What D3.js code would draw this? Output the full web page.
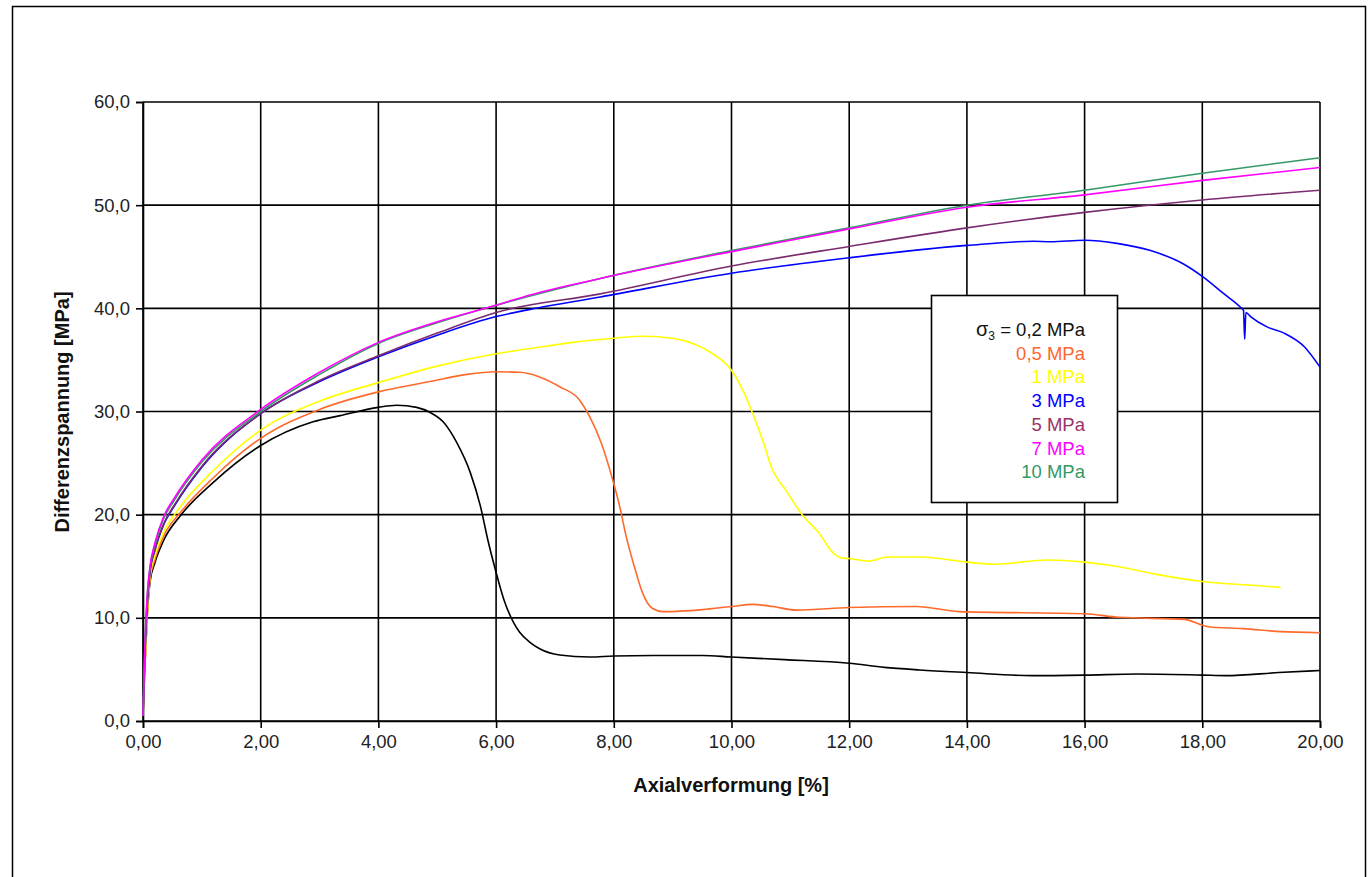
<!DOCTYPE html>
<html><head><meta charset="utf-8">
<script src="https://cdn.jsdelivr.net/npm/d3@7"></script>
<style>
html,body{margin:0;padding:0;background:#fff;}
svg{display:block;font-family:"Liberation Sans",Arial,sans-serif;}
</style></head>
<body>
<svg id="chart" width="1370" height="877"></svg>
<script>
// ---- data (Axialverformung [%], Differenzspannung [MPa]) ----
const xTicks = [0,2,4,6,8,10,12,14,16,18,20];
const yTicks = [0,10,20,30,40,50,60];
const seriesNames = ["σ3 = 0,2 MPa","0,5 MPa","1 MPa","3 MPa","5 MPa","7 MPa","10 MPa"];
const seriesColors = ["#000000","#ff6a2b","#ffff00","#0000ff","#7b2c6e","#ff00ff","#339966"];

const s02 = [[0,0.5],[0.03,5],[0.07,10],[0.12,13.5],[0.2,15.3],[0.35,17.5],[0.65,20.0],[1.19,23.1],[2.0,26.7],[2.89,29.0],[3.35,29.6],[4.0,30.4],[4.31,30.6],[4.65,30.4],[4.88,29.9],[5.1,29.0],[5.33,27.0],[5.56,24.1],[5.73,20.9],[5.87,17.3],[6.0,14.4],[6.13,11.8],[6.3,9.5],[6.4,8.6],[6.58,7.6],[6.74,7.0],[7.08,6.4],[7.59,6.2],[8.0,6.3],[8.66,6.35],[9.51,6.35],[10.0,6.2],[10.9,5.95],[12.0,5.6],[12.6,5.2],[13.2,4.95],[14.0,4.7],[15.1,4.4],[16.0,4.45],[16.9,4.55],[18.0,4.45],[18.4,4.4],[19.3,4.7],[20.0,4.9]];
const s05 = [[0,0.5],[0.03,5],[0.07,10],[0.12,13.8],[0.2,15.6],[0.35,17.9],[0.65,20.3],[1.2,23.6],[2.0,27.4],[3.0,30.2],[4.0,31.9],[4.88,32.9],[5.5,33.6],[6.0,33.85],[6.4,33.8],[7.08,32.4],[7.42,31.1],[7.59,29.5],[7.79,26.9],[7.98,23.4],[8.1,20.8],[8.21,17.9],[8.35,14.95],[8.49,12.4],[8.66,10.9],[8.83,10.6],[9.51,10.8],[10.0,11.1],[10.36,11.3],[10.7,11.1],[11.1,10.75],[12.0,11.0],[13.14,11.1],[13.87,10.6],[16.0,10.4],[16.59,10.05],[17.69,9.85],[18.1,9.14],[18.7,8.95],[19.33,8.66],[20.0,8.56]];
const s1 = [[0,0.5],[0.03,5],[0.07,10],[0.12,14],[0.2,16],[0.35,18.3],[0.6,20.5],[1.2,24.3],[2.0,28.2],[3.0,31.0],[4.0,32.8],[5.0,34.4],[6.0,35.6],[6.58,36.1],[7.3,36.7],[8.0,37.1],[8.5,37.3],[9.0,37.1],[9.34,36.6],[9.68,35.6],[10.0,34.0],[10.19,32.1],[10.36,29.8],[10.53,27.2],[10.7,24.3],[10.92,22.4],[11.2,20.0],[11.49,18.2],[11.71,16.4],[11.88,15.8],[12.0,15.75],[12.33,15.5],[12.65,15.9],[13.2,15.9],[14.0,15.4],[14.46,15.2],[15.37,15.6],[16.0,15.4],[16.59,14.95],[17.2,14.24],[18.03,13.5],[18.73,13.2],[19.33,12.95]];
const s3 = [[0,0.5],[0.03,6],[0.07,11],[0.12,14.5],[0.2,16.5],[0.35,19.0],[0.55,21.0],[1.0,24.6],[2.0,29.8],[3.0,32.9],[4.0,35.3],[5.0,37.4],[6.0,39.2],[6.58,39.9],[7.77,41.1],[10.0,43.4],[12.0,44.9],[14.0,46.1],[15.13,46.5],[15.42,46.45],[16.0,46.6],[16.55,46.3],[17.12,45.6],[17.68,44.3],[18.0,43.1],[18.37,41.4],[18.65,40.1],[18.70,39.8],[18.72,37.0],[18.74,39.6],[18.82,39.2],[19.1,38.2],[19.39,37.6],[19.73,36.3],[20.0,34.3]];
const s5 = [[0,0.5],[0.03,6],[0.07,11],[0.12,14.5],[0.2,16.6],[0.35,19.1],[0.55,21.1],[1.0,24.7],[2.0,29.8],[3.0,33.0],[4.0,35.4],[5.0,37.6],[6.0,39.6],[7.77,41.4],[10.0,44.1],[12.0,46.0],[14.0,47.8],[16.0,49.3],[18.0,50.5],[20.0,51.45]];
const s7 = [[0,0.5],[0.03,7],[0.07,12],[0.12,15],[0.2,17.2],[0.35,19.8],[0.52,21.5],[1.0,25.3],[2.0,30.2],[3.0,33.8],[4.0,36.7],[5.0,38.7],[6.0,40.3],[6.58,41.3],[7.77,42.9],[10.0,45.5],[12.0,47.7],[14.0,49.8],[16.0,51.0],[18.0,52.4],[20.0,53.65]];
const s10 = [[0,0.5],[0.03,7],[0.07,12],[0.12,14.9],[0.2,17.0],[0.35,19.6],[0.52,21.3],[1.0,25.1],[2.0,30.0],[3.0,33.6],[4.0,36.6],[5.0,38.6],[6.0,40.3],[7.77,42.9],[10.0,45.6],[12.0,47.8],[14.0,50.0],[16.0,51.45],[18.0,53.1],[20.0,54.6]];
const seriesData = [s02,s05,s1,s3,s5,s7,s10];

// ---- drawing ----
const svg = d3.select("#chart");
const x = d3.scaleLinear().domain([0,20]).range([143,1320]);
const y = d3.scaleLinear().domain([0,60]).range([721,102]);

// outer frame
svg.append("rect").attr("x",12.5).attr("y",6.5).attr("width",1353).attr("height",900)
  .attr("fill","none").attr("stroke","#000").attr("stroke-width",1.5);

// gridlines
const g = svg.append("g");
g.selectAll("line.vx").data(xTicks).join("line")
  .attr("x1",d=>x(d)).attr("x2",d=>x(d)).attr("y1",y(0)).attr("y2",y(60))
  .attr("stroke","#000").attr("stroke-width",1.6);
g.selectAll("line.hy").data(yTicks).join("line")
  .attr("y1",d=>y(d)).attr("y2",d=>y(d)).attr("x1",x(0)).attr("x2",x(20))
  .attr("stroke","#000").attr("stroke-width",1.6);

// axes
const fmtY = d => d3.format(".1f")(d).replace(".",",");
const fmtX = d => d3.format(".2f")(d).replace(".",",");
const ax = svg.append("g").attr("transform",`translate(0,${y(0)})`)
  .call(d3.axisBottom(x).tickValues(xTicks).tickSize(7).tickPadding(7).tickFormat(fmtX));
const ay = svg.append("g").attr("transform",`translate(${x(0)},0)`)
  .call(d3.axisLeft(y).tickValues(yTicks).tickSize(7).tickPadding(6).tickFormat(fmtY));
[ax,ay].forEach(a=>{
  a.select(".domain").attr("stroke","#000").attr("stroke-width",1.6);
  a.selectAll(".tick line").attr("stroke","#000").attr("stroke-width",1.6);
  a.selectAll(".tick text").attr("font-size",18.5).attr("fill","#222")
    .attr("font-family","'Liberation Sans',Arial,sans-serif");
});

// curves
const line = d3.line().x(d=>x(d[0])).y(d=>y(d[1])).curve(d3.curveMonotoneX);
const order = [0,1,2,3,4,6,5];
order.forEach(i=>{
  svg.append("path").datum(seriesData[i]).attr("d",line)
    .attr("fill","none").attr("stroke",seriesColors[i]).attr("stroke-width",1.6)
    .attr("stroke-linejoin","round");
});

// axis titles
svg.append("text").attr("x",731).attr("y",792).attr("text-anchor","middle")
  .attr("font-size",20).attr("font-weight","bold").attr("fill","#111")
  .text("Axialverformung [%]");
svg.append("text").attr("transform","translate(69,412) rotate(-90)").attr("text-anchor","middle")
  .attr("font-size",20).attr("font-weight","bold").attr("fill","#111")
  .text("Differenzspannung [MPa]");

// legend
svg.append("rect").attr("x",931.5).attr("y",295.5).attr("width",186).attr("height",207)
  .attr("fill","#fff").attr("stroke","#000").attr("stroke-width",1.6);
const legColors = seriesColors.map((c,i)=> i===4 ? "#993366" : (i===1 ? "#ff6633" : c));
seriesNames.forEach((name,i)=>{
  const t = svg.append("text").attr("x",1085).attr("y",336 + i*23.7).attr("text-anchor","end")
    .attr("font-size",18.5).attr("fill",i===0?"#111":legColors[i]);
  if(i===0){
    t.append("tspan").attr("font-size",20).text("σ");
    t.append("tspan").attr("font-size",12).attr("dy",4).text("3");
    t.append("tspan").attr("dy",-4).text(" = 0,2 MPa");
  } else {
    t.text(name);
  }
});
</script>
</body></html>
